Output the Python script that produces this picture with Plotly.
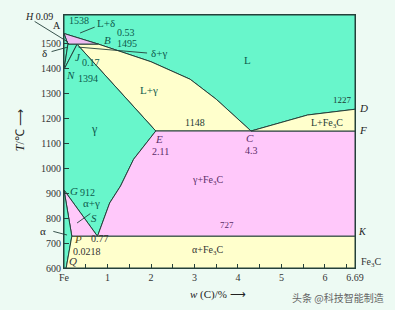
import plotly.graph_objects as go

# ---- data (w(C) in %, T in °C) ----
# liquidus A-B-C-D
liq_x = [0.0, 0.80, 2.0, 2.9, 3.5, 4.30, 5.6, 6.69]
liq_t = [1538, 1495, 1425, 1355, 1275, 1148, 1212, 1235]
# Acm line E-S
acm_x = [2.11, 1.6, 1.3, 1.05, 0.77]
acm_t = [1148, 1035, 928, 860, 727]
# characteristic points
pt_name = ["A", "H", "J", "B", "N", "C", "D", "E", "F", "G", "S", "P", "K", "Q"]
pt_x = [0.0, 0.09, 0.30, 0.80, 0.0, 4.30, 6.69, 2.11, 6.69, 0.0, 0.77, 0.18, 6.69, 0.05]
pt_t = [1538, 1495, 1495, 1495, 1394, 1148, 1235, 1148, 1148, 912, 727, 727, 727, 600]
T_TOP = 1612
T_BOT = 600
X_MAX = 6.69

# axis ticks
y_ticks = [600, 700, 800, 900, 1000, 1100, 1200, 1300, 1400, 1500]
x_major = [0, 1, 2, 3, 4, 5, 6, 6.69]
x_major_lbl = ["Fe", "1", "2", "3", "4", "5", "6", "6.69"]
x_minor = [0.5, 1.5, 2.5, 3.5, 4.5, 5.5, 6.5]

P_ = {n: (x, t) for n, x, t in zip(pt_name, pt_x, pt_t)}

GREEN = "#68f6cb"
YELLOW = "#ffffcc"
PINK = "#ffc8fa"
PINK2 = "#eebcf2"
LINE = "#24403a"
BG = "#edfaf3"
TEAL = "#0d5a4c"
PURP = "#5a2d68"


def poly(names_or_pts):
    xs, ts = [], []
    for p in names_or_pts:
        if isinstance(p, str):
            p = P_[p]
        xs.append(p[0]); ts.append(p[1])
    xs.append(xs[0]); ts.append(ts[0])
    return xs, ts

liqBC = list(zip(liq_x[1:6], liq_t[1:6]))       # B..C
liqCD = list(zip(liq_x[5:], liq_t[5:]))         # C..D
acm = list(zip(acm_x, acm_t))                   # E..S

regions = [
    (["A"] + liqBC + liqCD[1:] + [(X_MAX, T_TOP), (0.0, T_TOP)], GREEN),     # L
    (["A", "B", "H"], PINK2),                                                # L+delta
    (["A", "H", "N"], GREEN),                                                # delta
    (["H", "J", "N"], GREEN),                                                # delta+gamma
    (["J"] + liqBC + ["E"], YELLOW),                                         # L+gamma
    (["N", "J"] + acm + ["G"], GREEN),                                       # gamma
    (["G", "S", "P"], PINK),                                                 # alpha+gamma
    (["G", "P", "Q", (0.0, T_BOT)], GREEN),                                  # alpha
    (acm + ["K", "F"], PINK),                                                # gamma+Fe3C
    (liqCD + ["F"], YELLOW),                                                 # L+Fe3C
    (["P", "K", (X_MAX, T_BOT), "Q"], YELLOW),                               # alpha+Fe3C
]

fig = go.Figure()
for pts, col in regions:
    xs, ts = poly(pts)
    fig.add_trace(go.Scatter(x=xs, y=ts, mode="lines", fill="toself", fillcolor=col,
                             line=dict(color=LINE, width=1), hoverinfo="skip", showlegend=False))


def lab(text, x, y, color=TEAL, size=10, italic=False, **kw):
    """Label placed in data units; converted to paper units so it is never hidden."""
    if italic:
        text = "<i>" + text + "</i>"
    fig.add_annotation(x=x / X_MAX, y=(y - T_BOT) / (T_TOP - T_BOT), xref="paper", yref="paper",
                       text=text, showarrow=False, xanchor=kw.pop("xanchor", "center"),
                       yanchor="middle",
                       font=dict(family="Liberation Serif", size=size, color=color), **kw)


def ptr(x0, y0, x1, y1):
    fig.add_annotation(x=x1, y=y1, ax=x0, ay=y0, xref="x", yref="y", axref="x", ayref="y",
                       text="", showarrow=True, arrowhead=0, arrowwidth=0.9,
                       arrowcolor=LINE, standoff=0, startstandoff=0)

# labels
lab("<i>H</i> 0.09", -0.57, 1606, color="#222")
lab("A", -0.16, 1572, color="#222")
lab("1538", 0.07, 1588, xanchor="left")
lab("L+δ", 0.97, 1580, size=11)
lab("0.53", 1.43, 1542)
lab("B", 0.99, 1512, italic=True, size=11)
lab("1495", 1.45, 1500)
lab("δ+γ", 2.18, 1460, size=11)
lab("δ", -0.44, 1460, color="#222", size=11)
lab("J", 0.32, 1444, italic=True, size=11)
lab("0.17", 0.62, 1422)
lab("N", 0.14, 1372, italic=True, size=11)
lab("1394", 0.56, 1358)
lab("L", 4.23, 1432, size=11)
lab("L+γ", 1.95, 1312, size=11)
lab("1227", 6.41, 1272, size=9, color="#1d3a34")
lab("D", 6.88, 1240, italic=True, size=11, color="#222")
lab("F", 6.88, 1152, italic=True, size=11, color="#222")
lab("1148", 3.01, 1184, size=10, color="#1d3a34")
lab("L+Fe<sub>3</sub>C", 6.05, 1180, size=10, color="#1d3a34")
lab("γ", 0.71, 1156, size=12)
lab("E", 2.18, 1116, italic=True, size=11, color=PURP)
lab("2.11", 2.21, 1068, color=PURP)
lab("C", 4.28, 1120, italic=True, size=11, color=PURP)
lab("4.3", 4.32, 1072, color=PURP)
lab("γ+Fe<sub>3</sub>C", 3.31, 952, color=PURP)
lab("G", 0.23, 908, italic=True, size=11)
lab("912", 0.55, 900)
lab("α+γ", 0.64, 858, size=11)
lab("S", 0.69, 800, italic=True, size=11)
lab("727", 3.75, 772, size=9, color=PURP)
lab("K", 6.87, 744, italic=True, size=10, color="#222")
lab("α", -0.48, 750, color="#222", size=11)
lab("P", 0.32, 716, italic=True, size=11, color="#5a4a10")
lab("0.77", 0.83, 720, color="#333")
lab("0.0218", 0.52, 668, color="#333")
lab("α+Fe<sub>3</sub>C", 3.31, 672, color="#333")
lab("Q", 0.21, 628, italic=True, size=11, color="#333")
lab("Fe<sub>3</sub>C", 7.06, 622, color="#333")

# pointer lines
ptr(-0.71, 1590, 0.09, 1504)
ptr(0.74, 1566, 0.37, 1540)
ptr(0.30, 1484, 1.91, 1460)
ptr(-0.32, 1464, 0.09, 1484)
ptr(0.64, 822, 0.30, 780)
ptr(-0.28, 748, 0.07, 732)

# axis titles and watermark
fig.add_annotation(xref="paper", yref="paper", x=-0.151, y=0.545, text="<i>T</i>/℃ ⟶",
                   textangle=-90, showarrow=False, xanchor="center", yanchor="middle",
                   font=dict(family="Liberation Serif", size=12, color="#222"))
fig.add_annotation(xref="paper", yref="paper", x=0.53, y=-0.105, text="<i>w</i> (C)/% ⟶",
                   showarrow=False, xanchor="center", yanchor="middle",
                   font=dict(family="Liberation Serif", size=11, color="#222"))
fig.add_annotation(xref="paper", yref="paper", x=1.108, y=-0.115, text="头条 @科技智能制造",
                   showarrow=False, xanchor="right", yanchor="middle",
                   font=dict(family="Noto Sans CJK SC", size=10, color="#666"))

tickfont = dict(family="Liberation Serif", size=10, color="#333")
fig.update_xaxes(range=[0, X_MAX], showgrid=False, zeroline=False, showline=True,
                 linecolor=LINE, linewidth=1, mirror=True, ticks="inside", ticklen=4,
                 tickcolor=LINE, tickvals=x_major + x_minor,
                 ticktext=x_major_lbl + [""] * len(x_minor), tickfont=tickfont)
fig.update_yaxes(range=[T_BOT, T_TOP], showgrid=False, zeroline=False, showline=True,
                 linecolor=LINE, linewidth=1, mirror=True, ticks="inside", ticklen=5,
                 tickcolor=LINE, tickvals=y_ticks, tickfont=tickfont)
fig.update_layout(width=395, height=310, autosize=False,
                  margin=dict(l=64, r=40, t=15, b=42, pad=0),
                  paper_bgcolor=BG, plot_bgcolor=BG, showlegend=False)
fig.write_html("out.html")
